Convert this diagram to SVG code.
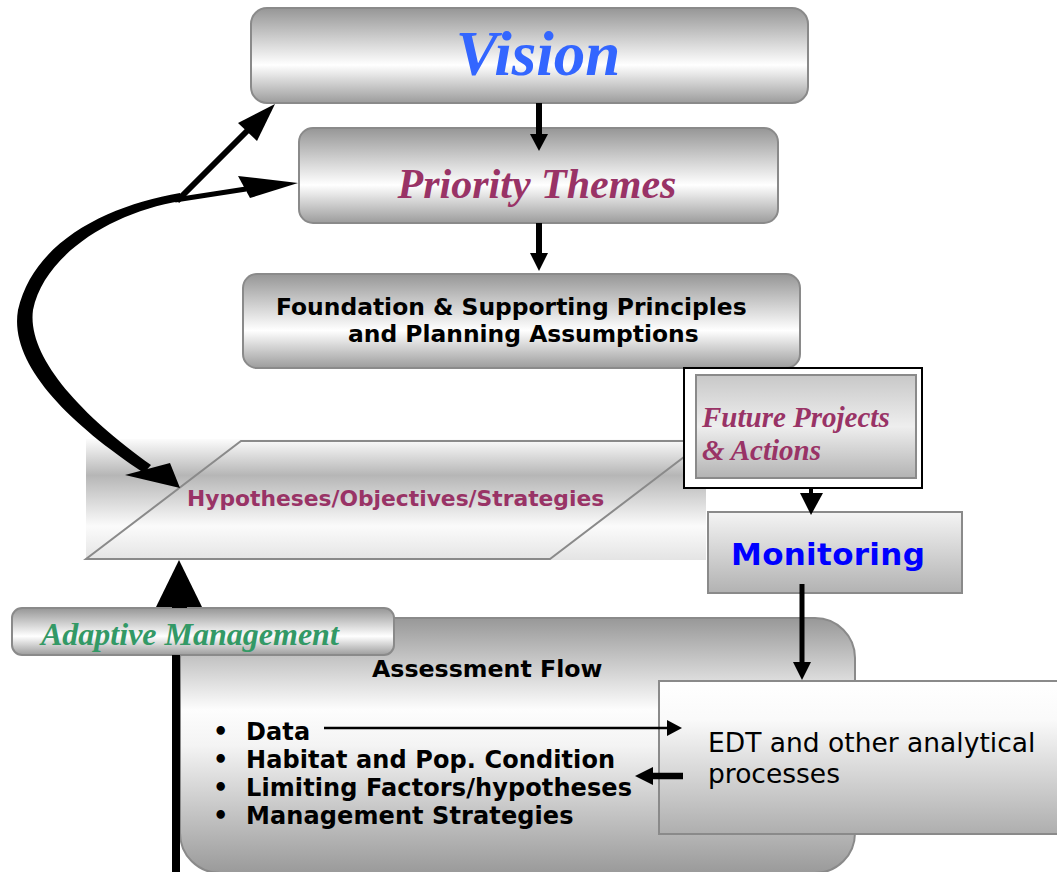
<svg xmlns="http://www.w3.org/2000/svg" width="1057" height="872" viewBox="0 0 1057 872">
<defs>
<linearGradient id="gBox" x1="0" y1="0" x2="0" y2="1">
<stop offset="0" stop-color="#969696"/><stop offset="0.6" stop-color="#ffffff"/><stop offset="1" stop-color="#9c9c9c"/>
</linearGradient>
<linearGradient id="gAssess" x1="0" y1="0" x2="0" y2="1">
<stop offset="0" stop-color="#989898"/><stop offset="0.36" stop-color="#fdfdfd"/><stop offset="0.5" stop-color="#f4f4f4"/><stop offset="1" stop-color="#9a9a9a"/>
</linearGradient>
<linearGradient id="gPara" x1="0" y1="0" x2="0" y2="1">
<stop offset="0" stop-color="#fcfcfc"/><stop offset="0.3" stop-color="#b6b6b6"/><stop offset="0.72" stop-color="#fbfbfb"/><stop offset="1" stop-color="#e4e4e4"/>
</linearGradient>
<linearGradient id="gFuture" x1="0" y1="0" x2="0" y2="1">
<stop offset="0" stop-color="#c8c8c8"/><stop offset="0.5" stop-color="#eeeeee"/><stop offset="1" stop-color="#b3b3b3"/>
</linearGradient>
<linearGradient id="gMon" x1="0" y1="0" x2="0" y2="1">
<stop offset="0" stop-color="#f4f4f4"/><stop offset="1" stop-color="#b2b2b2"/>
</linearGradient>
<linearGradient id="gEdt" x1="0" y1="0" x2="0" y2="1">
<stop offset="0" stop-color="#ffffff"/><stop offset="0.25" stop-color="#fafafa"/><stop offset="1" stop-color="#aeaeae"/>
</linearGradient>
</defs>
<style>
.box{stroke:#8a8a8a;stroke-width:2}
.serif{font-family:"Liberation Serif","Times New Roman",serif;font-weight:bold;font-style:italic}
.sans{font-family:"DejaVu Sans",Verdana,sans-serif;font-weight:bold}
.plain{font-family:"DejaVu Sans",Verdana,sans-serif}
.blk{fill:#000}
.ln{stroke:#000;fill:none}
</style>
<rect width="1057" height="872" fill="#ffffff"/>

<g id="hypotheses">
<rect x="86" y="439" width="620" height="121" fill="url(#gPara)"/>
<polygon points="241,441 705,441 550,559 86,559" fill="none" stroke="#8a8a8a" stroke-width="2"/>
<text x="187" y="506" class="sans" font-size="21.8" fill="#993366">Hypotheses/Objectives/Strategies</text>
</g>

<g id="vision">
<rect x="251" y="8" width="557" height="95" rx="16" fill="url(#gBox)" class="box"/>
<text x="538" y="75" class="serif" font-size="63" fill="#3366ff" text-anchor="middle">Vision</text>
</g>

<g id="priority">
<rect x="299" y="128" width="479" height="95" rx="14" fill="url(#gBox)" class="box"/>
<text x="537" y="198" class="serif" font-size="42" fill="#993366" text-anchor="middle">Priority Themes</text>
</g>

<g id="foundation">
<rect x="243" y="274" width="557" height="94" rx="14" fill="url(#gBox)" class="box"/>
<text x="276" y="315" class="sans" font-size="23.4" fill="#000">Foundation &amp; Supporting Principles</text>
<text x="348" y="342" class="sans" font-size="23.4" fill="#000">and Planning Assumptions</text>
</g>

<g id="future">
<rect x="684" y="368" width="238" height="120" fill="#ffffff" stroke="#000" stroke-width="2"/>
<rect x="696" y="375" width="220" height="103" fill="url(#gFuture)" class="box"/>
<text x="702" y="427" class="serif" font-size="29" fill="#993366">Future Projects</text>
<text x="702" y="460" class="serif" font-size="29" fill="#993366">&amp; Actions</text>
</g>

<g id="monitoring">
<rect x="708" y="512" width="254" height="81" fill="url(#gMon)" class="box"/>
<text x="731" y="565" class="sans" font-size="31" letter-spacing="0.3" fill="#0000ff">Monitoring</text>
</g>

<g id="assessment">
<rect x="180" y="618" width="675" height="255" rx="40" fill="url(#gAssess)" class="box"/>
<text x="372" y="677" class="sans" font-size="23.7" fill="#000">Assessment Flow</text>
<text class="sans" font-size="24" letter-spacing="0.1" fill="#000">
<tspan x="213" y="740">•</tspan><tspan x="246" y="740">Data</tspan>
<tspan x="213" y="768">•</tspan><tspan x="246" y="768">Habitat and Pop. Condition</tspan>
<tspan x="213" y="796">•</tspan><tspan x="246" y="796">Limiting Factors/hypotheses</tspan>
<tspan x="213" y="824">•</tspan><tspan x="246" y="824">Management Strategies</tspan>
</text>
</g>

<g id="adaptive">
<rect x="12" y="608" width="382" height="47" rx="10" fill="url(#gBox)" class="box"/>
<text x="41" y="645" class="serif" font-size="32" fill="#339966">Adaptive Management</text>
</g>

<g id="edt">
<rect x="659" y="681" width="400" height="153" fill="url(#gEdt)" class="box"/>
<text x="708" y="752" class="plain" font-size="26.5" fill="#000">EDT and other analytical</text>
<text x="708" y="783" class="plain" font-size="26.5" fill="#000">processes</text>
</g>

<g id="connectors">
<line x1="539" y1="103" x2="539" y2="137" class="ln" stroke-width="6"/>
<polygon points="530,134 548,134 539,151" class="blk"/>
<line x1="539" y1="223" x2="539" y2="256" class="ln" stroke-width="6"/>
<polygon points="530,253 548,253 539,271" class="blk"/>
<line x1="811" y1="488" x2="811" y2="496" class="ln" stroke-width="4"/>
<polygon points="800,493 823,493 811,515" class="blk"/>
<line x1="802" y1="584" x2="802" y2="665" class="ln" stroke-width="5"/>
<polygon points="793,662 811,662 802,680" class="blk"/>
<line x1="324" y1="728" x2="669" y2="728" class="ln" stroke-width="2.5"/>
<polygon points="667,720 667,736 682,728" class="blk"/>
<line x1="683" y1="776" x2="651" y2="776" class="ln" stroke-width="6.5"/>
<polygon points="653,767 653,785 635,776" class="blk"/>
<rect x="172" y="600" width="15" height="8" class="blk"/>
<rect x="172" y="655" width="8" height="217" class="blk"/>
<polygon points="179,560 156,607 202,607" class="blk"/>
<path d="M180,193 C110,205 34,240 18,310 C9,362 64,420 144,473 L151,465 C77,412 27,355 33,310 C44,255 112,212 181,201 Z" class="blk"/>
<polygon points="180,488 125,475 170,463" class="blk"/>
<line x1="177" y1="201" x2="250" y2="128" class="ln" stroke-width="6"/>
<polygon points="275,104 238,123 257,141" class="blk"/>
<line x1="175" y1="200" x2="246" y2="189" class="ln" stroke-width="5"/>
<polygon points="298,183 238,176 250,198" class="blk"/>
</g>
</svg>
